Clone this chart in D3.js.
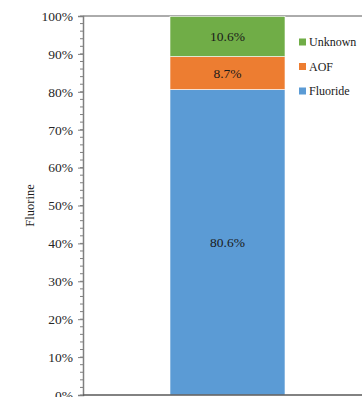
<!DOCTYPE html>
<html>
<head>
<meta charset="utf-8">
<script src="https://cdn.jsdelivr.net/npm/d3@7"></script>
<style>
  html, body { margin: 0; padding: 0; background: #fff; }
  svg { display: block; }
  svg text { font-family: "Liberation Serif", "Times New Roman", serif !important; }
</style>
</head>
<body>
<svg id="chart" width="362" height="397"></svg>
<script>
// Stacked composition of fluorine (percent of total)
const categories = ["Fluorine"];
const seriesNames = ["Fluoride", "AOF", "Unknown"];
const seriesValues = {
  Fluoride: [80.6],
  AOF: [8.7],
  Unknown: [10.6]
};
const seriesColors = { Fluoride: "#5B9BD5", AOF: "#ED7D31", Unknown: "#70AD47" };
const tickValues = [0, 10, 20, 30, 40, 50, 60, 70, 80, 90, 100];
const legendOrder = ["Unknown", "AOF", "Fluoride"];

const svg = d3.select("#chart");
const margin = { left: 83, top: 16, bottom: 2 };
const W = 362, H = 397;

const y = d3.scaleLinear().domain([0, 100]).range([H - margin.bottom, margin.top]);
// plot area runs a little past the right edge of the view
const x = d3.scaleBand().domain(categories).range([margin.left, 372])
  .paddingInner(0).paddingOuter(0.7565);

// top border of the plot area
svg.append("line")
  .attr("x1", margin.left).attr("x2", W)
  .attr("y1", y(100)).attr("y2", y(100))
  .attr("stroke", "#595959").attr("stroke-width", 1);

// stacked bars
const rows = categories.map((c, i) => {
  const r = { category: c };
  seriesNames.forEach(s => r[s] = seriesValues[s][i]);
  return r;
});
const stacked = d3.stack().keys(seriesNames)(rows);

const g = svg.append("g");
stacked.forEach(layer => {
  layer.forEach(d => {
    g.append("rect")
      .attr("x", x(d.data.category))
      .attr("width", x.bandwidth())
      .attr("y", y(d[1]))
      .attr("height", y(d[0]) - y(d[1]))
      .attr("fill", seriesColors[layer.key])
      .attr("stroke", "#fff").attr("stroke-width", 0.6);
    g.append("text")
      .attr("x", x(d.data.category) + x.bandwidth() / 2)
      .attr("y", (y(d[0]) + y(d[1])) / 2)
      .attr("dy", "0.35em")
      .attr("text-anchor", "middle")
      .attr("font-size", 13.5)
      .attr("fill", "#1a1a1a")
      .text(d3.format(".1f")(d[1] - d[0]) + "%");
  });
});

// minor ticks every 2%
const minor = d3.range(0, 101, 2);
svg.append("g")
  .selectAll("line").data(minor).join("line")
  .attr("x1", margin.left - 3).attr("x2", margin.left)
  .attr("y1", d => y(d)).attr("y2", d => y(d))
  .attr("stroke", "#7f7f7f").attr("stroke-width", 1);

// y axis with percent labels
const yAxis = d3.axisLeft(y).tickValues(tickValues).tickSize(5).tickPadding(5)
  .tickFormat(d => d + "%");
const ya = svg.append("g").attr("transform", `translate(${margin.left},0)`).call(yAxis);
ya.select(".domain").attr("stroke", "#7f7f7f").attr("stroke-width", 1.5);
ya.selectAll(".tick line").attr("stroke", "#7f7f7f");
ya.selectAll(".tick text")
  .attr("font-size", 13.5).attr("fill", "#262626");

// bottom axis line
svg.append("line")
  .attr("x1", margin.left).attr("x2", W)
  .attr("y1", y(0)).attr("y2", y(0))
  .attr("stroke", "#595959").attr("stroke-width", 1.5);

// y axis title
svg.append("text")
  .attr("transform", `translate(34,${(y(0) + y(100)) / 2}) rotate(-90)`)
  .attr("text-anchor", "middle")
  .attr("font-size", 12.5).attr("fill", "#1a1a1a")
  .text("Fluorine");

// legend
const legend = svg.append("g").attr("transform", "translate(299,0)");
legendOrder.forEach((name, i) => {
  const cy = 42 + i * 24.5;
  legend.append("rect")
    .attr("x", 0).attr("y", cy - 3.5).attr("width", 7).attr("height", 7)
    .attr("fill", seriesColors[name]);
  legend.append("text")
    .attr("x", 10).attr("y", cy).attr("dy", "0.35em")
    .attr("font-size", 12).attr("fill", "#1a1a1a")
    .text(name);
});
</script>
</body>
</html>
